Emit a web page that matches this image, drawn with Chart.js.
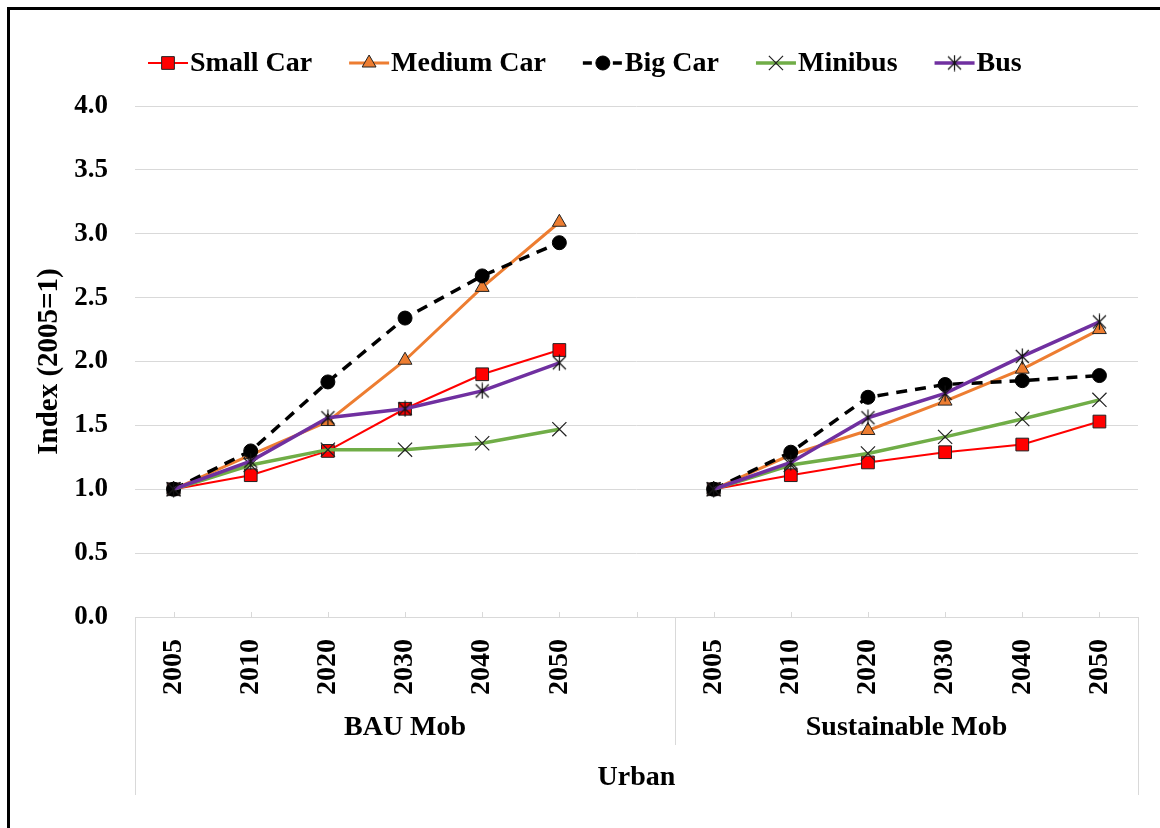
<!DOCTYPE html>
<html>
<head>
<meta charset="utf-8">
<script src="https://cdn.jsdelivr.net/npm/chart.js@4/dist/chart.umd.min.js"></script>
<style>
  html, body { margin: 0; padding: 0; background: #fff; overflow: hidden; }
  #frame { position: absolute; left: 7px; top: 7px; width: 1200px; height: 900px; border: 3px solid #000; }
  #chart { position: absolute; left: 0; top: 0; }
</style>
</head>
<body>
<div id="frame"></div>
<canvas id="chart" width="1160" height="828"></canvas>
<script>
// categories
const years = ['2005', '2010', '2020', '2030', '2040', '2050'];
const groups = ['BAU Mob', 'Sustainable Mob'];
const outerGroup = 'Urban';
const yTicks = [0, 0.5, 1, 1.5, 2, 2.5, 3, 3.5, 4];

// series values (BAU Mob / Sustainable Mob)
const smallCarBau = [1.00, 1.11, 1.30, 1.63, 1.90, 2.09];
const smallCarSus = [1.00, 1.11, 1.21, 1.29, 1.35, 1.53];
const mediumCarBau = [1.00, 1.27, 1.53, 2.01, 2.58, 3.09];
const mediumCarSus = [1.00, 1.27, 1.46, 1.69, 1.94, 2.25];
const bigCarBau = [1.00, 1.30, 1.84, 2.34, 2.67, 2.93];
const bigCarSus = [1.00, 1.29, 1.72, 1.82, 1.85, 1.89];
const minibusBau = [1.00, 1.19, 1.31, 1.31, 1.36, 1.47];
const minibusSus = [1.00, 1.19, 1.28, 1.41, 1.55, 1.70];
const busBau = [1.00, 1.22, 1.56, 1.63, 1.77, 1.99];
const busSus = [1.00, 1.21, 1.56, 1.75, 2.04, 2.31];

const xLabels = [...years, '', ...years];
const join = (a, b) => [...a, null, ...b];

const FONT = '"Liberation Serif", "Times New Roman", serif';

// asterisk marker (x with a vertical bar) like the Excel star
function starMarker(size) {
    const c = document.createElement('canvas');
    c.width = size; c.height = size;
    const g = c.getContext('2d');
    g.strokeStyle = '#111';
    g.lineWidth = 1.2;
    const m = 2;
    g.beginPath();
    g.moveTo(m, m); g.lineTo(size - m, size - m);
    g.moveTo(size - m, m); g.lineTo(m, size - m);
    g.moveTo(size / 2, 0.5); g.lineTo(size / 2, size - 0.5);
    g.stroke();
    return c;
}
const busMarker = starMarker(17);

const datasets = [
    {
        label: 'Small Car', data: join(smallCarBau, smallCarSus),
        borderColor: '#ff0000', borderWidth: 2,
        pointStyle: 'rect', pointRadius: 9, pointBackgroundColor: '#ff0000',
        pointBorderColor: '#222', pointBorderWidth: 1, order: 5
    },
    {
        label: 'Medium Car', data: join(mediumCarBau, mediumCarSus),
        borderColor: '#ed7d31', borderWidth: 3,
        pointStyle: 'triangle', pointRadius: 8, pointBackgroundColor: '#ed7d31',
        pointBorderColor: '#222', pointBorderWidth: 1, order: 4
    },
    {
        label: 'Big Car', data: join(bigCarBau, bigCarSus),
        borderColor: '#000', borderWidth: 3.5, borderDash: [11, 8],
        pointStyle: 'circle', pointRadius: 7, pointBackgroundColor: '#000',
        pointBorderColor: '#000', pointBorderWidth: 1, order: 3
    },
    {
        label: 'Minibus', data: join(minibusBau, minibusSus),
        borderColor: '#70ad47', borderWidth: 3.5,
        pointStyle: 'crossRot', pointRadius: 10, pointBackgroundColor: '#222',
        pointBorderColor: '#222', pointBorderWidth: 1.2, order: 2
    },
    {
        label: 'Bus', data: join(busBau, busSus),
        borderColor: '#7030a0', borderWidth: 3.5,
        pointStyle: busMarker, pointRadius: 8, pointBackgroundColor: '#222',
        pointBorderColor: '#222', order: 1
    }
];

// legend with line + marker, plus the grouped category axis
const decorations = {
    id: 'decorations',
    afterDraw(chart) {
        const ctx = chart.ctx;
        const x = chart.scales.x;
        const top = chart.chartArea.bottom;
        ctx.save();

        // small tick marks above axis
        ctx.strokeStyle = '#d9d9d9';
        ctx.lineWidth = 1;
        for (let i = 0; i < xLabels.length; i++) {
            const px = Math.round(x.getPixelForValue(i)) + 0.5;
            ctx.beginPath(); ctx.moveTo(px, top - 5); ctx.lineTo(px, top); ctx.stroke();
        }
        // group separators
        const divider = (x.getPixelForValue(6) + x.getPixelForValue(7)) / 2;
        const lines = [[x.left, 178], [divider, 128], [x.right, 178]];
        lines.forEach(([px, len]) => {
            px = Math.round(px) + 0.5;
            ctx.beginPath(); ctx.moveTo(px, top); ctx.lineTo(px, top + len); ctx.stroke();
        });

        ctx.fillStyle = '#000';
        ctx.font = 'bold 28px ' + FONT;
        ctx.textAlign = 'center';
        ctx.textBaseline = 'middle';
        ctx.fillText(groups[0], (x.left + divider) / 2, top + 111);
        ctx.fillText(groups[1], (divider + x.right) / 2, top + 111);
        ctx.fillText(outerGroup, (x.left + x.right) / 2, top + 161);

        // legend
        let lx = 148;
        const ly = 63;
        ctx.textAlign = 'left';
        chart.data.datasets.forEach(ds => {
            ctx.strokeStyle = ds.borderColor;
            ctx.lineWidth = ds.borderWidth;
            ctx.setLineDash(ds.borderDash ? [9, 6] : []);
            ctx.beginPath(); ctx.moveTo(lx, ly); ctx.lineTo(lx + 40, ly); ctx.stroke();
            ctx.setLineDash([]);
            ctx.fillStyle = ds.pointBackgroundColor;
            ctx.strokeStyle = ds.pointBorderColor;
            ctx.lineWidth = ds.pointBorderWidth || 1;
            Chart.helpers.drawPoint(ctx, {
                pointStyle: ds.pointStyle, radius: ds.pointRadius, rotation: 0,
                borderWidth: ds.pointBorderWidth || 1
            }, lx + 20, ly);
            ctx.fillStyle = '#000';
            ctx.font = 'bold 28px ' + FONT;
            ctx.fillText(ds.label, lx + 42, ly + 1);
            lx += 42 + ctx.measureText(ds.label).width + 37;
        });
        ctx.restore();
    }
};

new Chart(document.getElementById('chart'), {
    type: 'line',
    data: { labels: xLabels, datasets: datasets },
    options: {
        responsive: false,
        animation: false,
        spanGaps: false,
        layout: { padding: { left: 8, right: 22, top: 106, bottom: 0 } },
        plugins: { legend: { display: false }, tooltip: { enabled: false } },
        elements: { line: { tension: 0 } },
        scales: {
            x: {
                offset: true,
                grid: { display: false, drawTicks: false },
                border: { display: true, color: '#d9d9d9', width: 1 },
                ticks: {
                    autoSkip: false, minRotation: 90, maxRotation: 90, padding: 22,
                    color: '#000', font: { family: FONT, size: 28, weight: 'bold' }
                },
                afterFit(scale) { scale.height = 828 - 617; }
            },
            y: {
                min: 0, max: 4,
                afterBuildTicks(scale) { scale.ticks = yTicks.map(v => ({ value: v })); },
                grid: { color: '#d9d9d9', lineWidth: 1, drawTicks: false },
                border: { display: false },
                ticks: {
                    padding: 27, color: '#000',
                    font: { family: FONT, size: 27, weight: 'bold' },
                    callback: v => v.toFixed(1)
                },
                title: {
                    display: true, text: 'Index (2005=1)', color: '#000',
                    font: { family: FONT, size: 29, weight: 'bold' },
                    padding: { top: 24, bottom: 0 }
                },
                afterFit(scale) { scale.width = 127; }
            }
        }
    },
    plugins: [decorations]
});
</script>
</body>
</html>
